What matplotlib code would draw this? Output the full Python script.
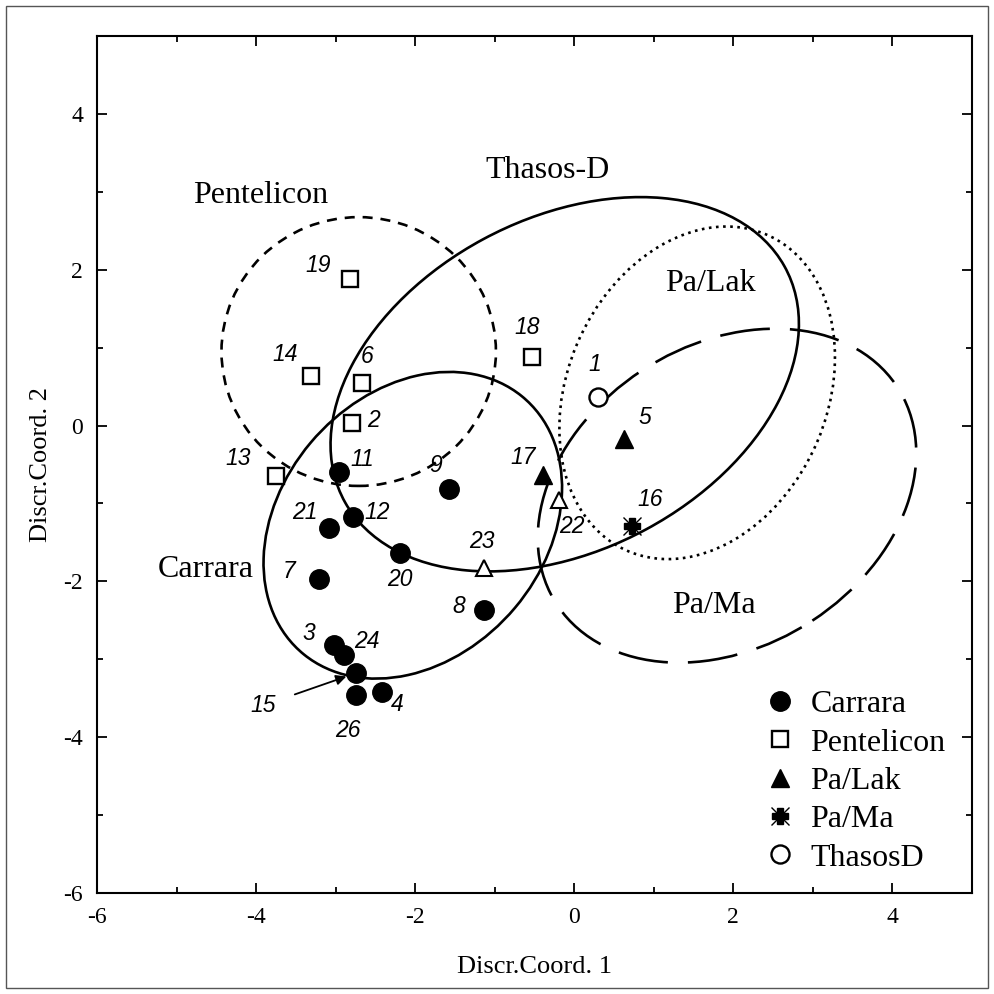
import numpy as np
import matplotlib
matplotlib.use("Agg")
import matplotlib.pyplot as plt
from matplotlib.patches import Ellipse, Rectangle
from matplotlib.legend_handler import HandlerTuple

plt.rcParams["axes.unicode_minus"] = False

# --- sample scores (discriminant coordinates) ---
carrara_id = ["11", "9", "21", "12", "20", "7", "8", "3", "24", "15", "26", "4"]
carrara_x = [-2.96, -1.57, -3.08, -2.78, -2.19, -3.21, -1.13, -3.02, -2.89, -2.75, -2.75, -2.42]
carrara_y = [-0.60, -0.81, -1.31, -1.17, -1.64, -1.97, -2.37, -2.82, -2.95, -3.18, -3.46, -3.42]

pent_id = ["19", "14", "6", "2", "13", "18"]
pent_x = [-2.82, -3.31, -2.67, -2.79, -3.75, -0.53]
pent_y = [1.88, 0.63, 0.54, 0.03, -0.65, 0.88]

palak_id = ["17", "5"]
palak_x = [-0.39, 0.63]
palak_y = [-0.64, -0.17]

unk_id = ["22", "23"]
unk_x = [-0.19, -1.13]
unk_y = [-0.95, -1.83]

pama_id = ["16"]
pama_x = [0.72]
pama_y = [-1.29]

thasos_id = ["1"]
thasos_x = [0.30]
thasos_y = [0.37]

# --- group ellipses: centre, width, height, angle ---
ell_names = ["Carrara", "Thasos-D", "Pentelicon", "Pa/Lak", "Pa/Ma"]
ell_cx = [-2.03, -0.12, -2.71, 1.545, 1.92]
ell_cy = [-1.28, 0.53, 0.95, 0.42, -0.90]
ell_w = [4.30, 6.30, 3.45, 4.42, 5.11]
ell_h = [3.33, 4.25, 3.45, 3.27, 3.86]
ell_ang = [50.5, 28.8, 0.0, 67.3, 33.8]

# group name positions
grp_names = ["Carrara", "Thasos-D", "Pentelicon", "Pa/Lak", "Pa/Ma"]
grp_x = [-4.63, -0.33, -3.94, 1.71, 1.75]
grp_y = [-1.85, 3.28, 2.95, 1.82, -2.31]

# label offsets in pixels (dx, dy up)
lab_off = {
    "11": (23, 13), "9": (-14, 23), "21": (-24, 15), "12": (24, 4), "20": (0, -26),
    "7": (-30, 8), "8": (-26, 4), "3": (-25, 12), "24": (23, 14), "26": (-8, -35),
    "4": (15, -13), "19": (-32, 14), "14": (-26, 22), "6": (5, 27), "2": (21, 3),
    "13": (-38, 18), "18": (-5, 29), "17": (-20, 18), "5": (20, 21), "22": (13, -27),
    "23": (-2, 27), "16": (19, 27), "1": (-3, 32),
}

serif = "Liberation Serif"
sans = "Liberation Sans"

fig = plt.figure(figsize=(9.94, 9.94), dpi=100)
ax = fig.add_axes([97 / 994, 1 - 893 / 994, 875 / 994, 857 / 994])
ax.set_xlim(-6, 5)
ax.set_ylim(-6, 5)

fig.patches.append(Rectangle((0.006, 0.006), 0.988, 0.988, transform=fig.transFigure,
                             fill=False, ec="#555555", lw=1.0))

# ellipses
styles = {
    "Carrara": "-",
    "Thasos-D": "-",
    "Pentelicon": (0, (3.8, 3.0)),
    "Pa/Lak": (0, (1, 1.7)),
    "Pa/Ma": (0, (19, 7.6)),
}
for n, cx, cy, w, h, a in zip(ell_names, ell_cx, ell_cy, ell_w, ell_h, ell_ang):
    e = Ellipse((cx, cy), w, h, angle=a, fill=False, ec="black", lw=1.9, ls=styles[n])
    ax.add_patch(e)

# points
ax.plot(carrara_x, carrara_y, "o", color="black", ms=14, zorder=5)
ax.plot(pent_x, pent_y, "s", mfc="white", mec="black", mew=1.7, ms=12, zorder=5)
ax.plot(palak_x, palak_y, "^", color="black", ms=13, zorder=5)
ax.plot(unk_x, unk_y, "^", mfc="white", mec="black", mew=1.5, ms=12, zorder=5)
ax.plot(pama_x, pama_y, "P", color="black", ms=12, zorder=5)
ax.plot(pama_x, pama_y, "x", color="black", ms=13, mew=1.0, zorder=5)
ax.plot(thasos_x, thasos_y, "o", mfc="white", mec="black", mew=1.7, ms=13, zorder=5)

# number labels
all_ids = carrara_id + pent_id + palak_id + unk_id + pama_id + thasos_id
all_x = carrara_x + pent_x + palak_x + unk_x + pama_x + thasos_x
all_y = carrara_y + pent_y + palak_y + unk_y + pama_y + thasos_y
for i, x, y in zip(all_ids, all_x, all_y):
    if i == "15":
        ax.annotate(i, (x, y), xytext=(-92, -32), textcoords="offset pixels",
                    ha="center", va="center", fontsize=16.5, style="italic",
                    family=sans,
                    arrowprops=dict(arrowstyle="-|>", color="black", lw=1.3,
                                    shrinkA=12, shrinkB=7, mutation_scale=15))
        continue
    dx, dy = lab_off[i]
    ax.annotate(i, (x, y), xytext=(dx, dy), textcoords="offset pixels",
                ha="center", va="center", fontsize=16.5, style="italic", family=sans)

# group names
for n, gx, gy in zip(grp_names, grp_x, grp_y):
    ax.text(gx, gy, n, ha="center", va="center", fontsize=23, family=serif)

# axes styling
ax.set_xticks(np.arange(-6, 5, 2))
ax.set_yticks(np.arange(-6, 5, 2))
ax.set_xticks(np.arange(-6, 6, 1), minor=True)
ax.set_yticks(np.arange(-6, 6, 1), minor=True)
ax.tick_params(which="both", direction="in", top=True, right=True, width=1.3)
ax.tick_params(which="major", length=7, pad=10)
ax.tick_params(which="minor", length=4.5)
for lab in ax.get_xticklabels() + ax.get_yticklabels():
    lab.set_fontfamily(serif)
    lab.set_fontsize(17)
for s in ax.spines.values():
    s.set_linewidth(1.5)
ax.set_xlabel("Discr.Coord. 1", fontsize=19, family=serif, labelpad=20)
ax.set_ylabel("Discr.Coord. 2", fontsize=19, family=serif, labelpad=8)

# legend
h1, = ax.plot([], [], "o", color="black", ms=14)
h2, = ax.plot([], [], "s", mfc="white", mec="black", mew=1.7, ms=12)
h3, = ax.plot([], [], "^", color="black", ms=13)
h4a, = ax.plot([], [], "P", color="black", ms=12)
h4b, = ax.plot([], [], "x", color="black", ms=13, mew=1.0)
h5, = ax.plot([], [], "o", mfc="white", mec="black", mew=1.7, ms=13)
leg = ax.legend([h1, h2, h3, (h4a, h4b), h5],
                ["Carrara", "Pentelicon", "Pa/Lak", "Pa/Ma", "ThasosD"],
                handler_map={tuple: HandlerTuple(ndivide=1, pad=0)},
                loc="upper left", bbox_to_anchor=((764 - 97) / 875, (893 - 690) / 857),
                frameon=False, prop={"family": serif, "size": 23},
                handlelength=1.0, handletextpad=0.45, labelspacing=0.28,
                borderpad=0, borderaxespad=0)

fig.savefig("out.png", dpi=100)
